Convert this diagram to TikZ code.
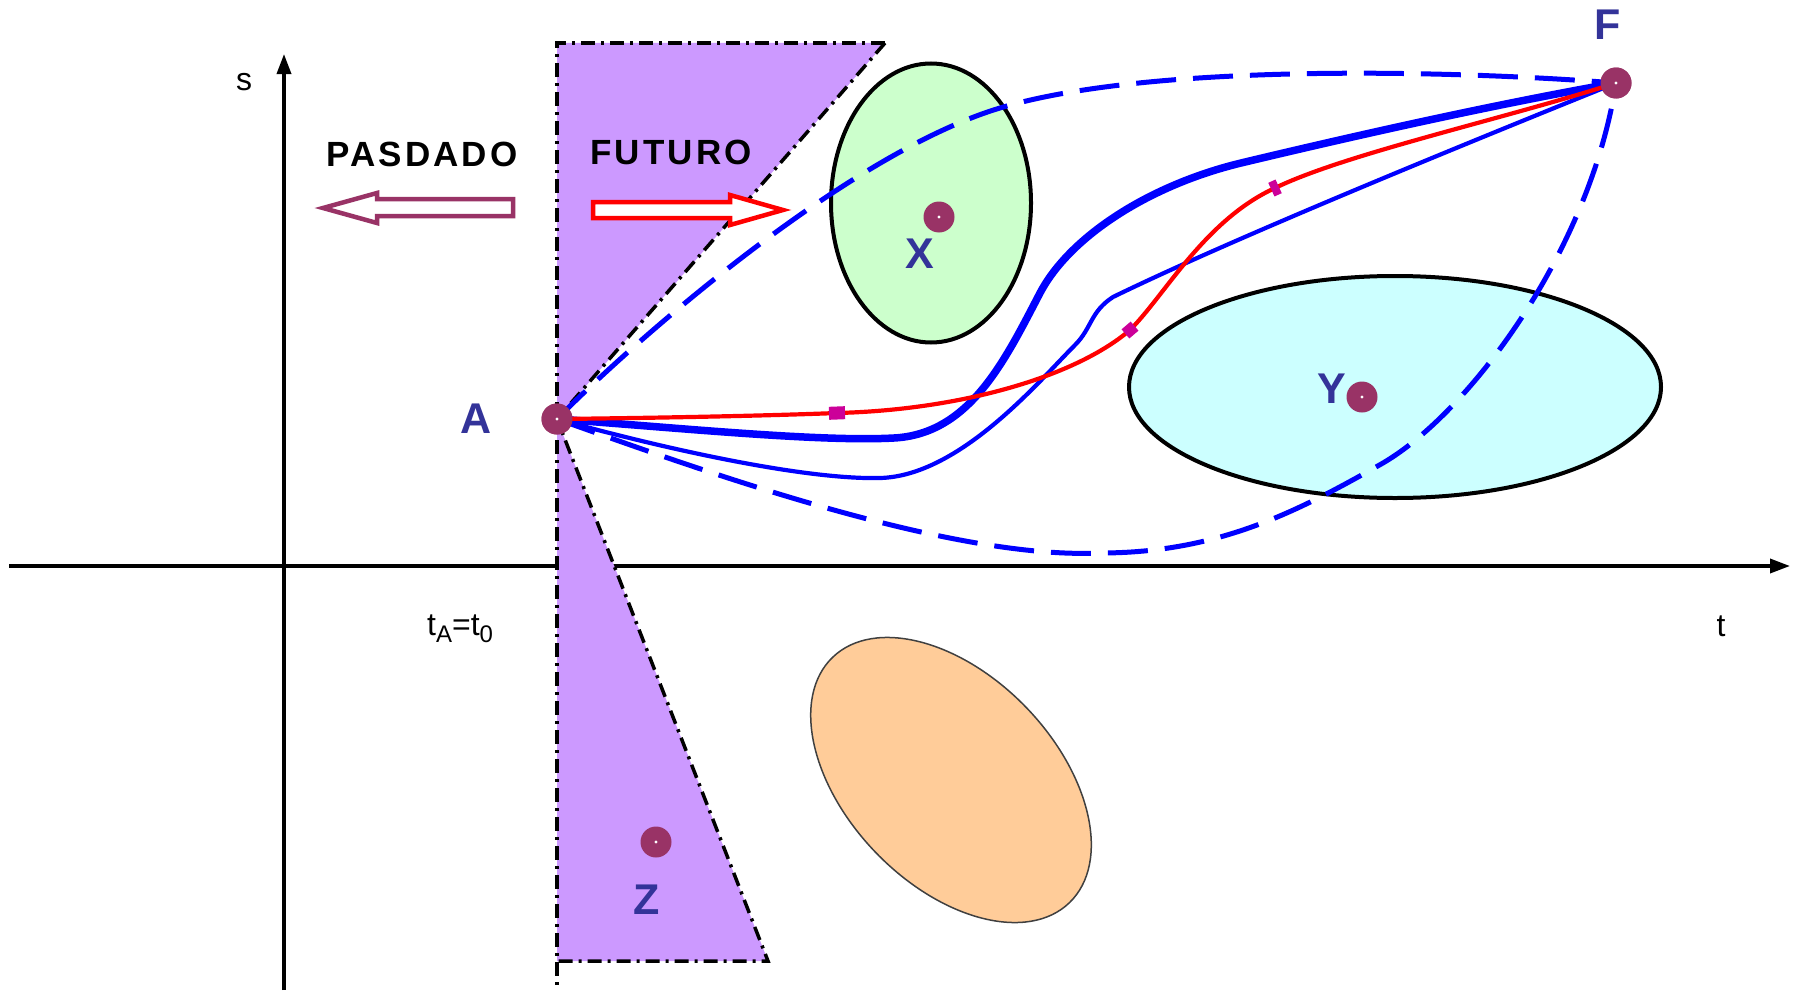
\documentclass[tikz,border=0pt]{standalone}
\usepackage{fontspec}
\setmainfont{Liberation Sans}
\usetikzlibrary{shapes.geometric,arrows.meta}
\definecolor{lilac}{HTML}{CC99FF}
\definecolor{dotc}{HTML}{993366}
\definecolor{lblc}{HTML}{333399}
\definecolor{greenf}{HTML}{CCFFCC}
\definecolor{cyanf}{HTML}{CCFFFF}
\definecolor{orangef}{HTML}{FFCC99}
\definecolor{markc}{HTML}{CC0099}
\definecolor{bluec}{HTML}{0000FF}
\begin{document}
\begin{tikzpicture}[x=1pt,y=-1pt,
  axis/.style={line width=3.5pt,-{Triangle[length=20pt,width=14pt]}},
  cone/.style={draw=black,line width=3.5pt,dash pattern=on 14pt off 6pt on 3pt off 6pt},
  region/.style={ellipse,draw=black,line width=4pt,inner sep=0pt},
  pt/.style={circle,fill=dotc,inner sep=0pt,minimum size=31pt},
  lbl/.style={text=lblc,font=\fontsize{43}{43}\selectfont\bfseries,anchor=base,inner sep=0pt},
  headtxt/.style={anchor=base,inner sep=0pt,font=\fontsize{35}{35}\selectfont\bfseries\addfontfeature{LetterSpace=9}},
  axtxt/.style={anchor=base,inner sep=0pt,font=\fontsize{32}{32}\selectfont},
  dashcurve/.style={draw=bluec,line width=5pt,dash pattern=on 40pt off 17pt},
  thickcurve/.style={draw=bluec,line width=7.5pt},
  thincurve/.style={draw=bluec,line width=4.2pt},
  redcurve/.style={draw=red,line width=4.2pt},
  tickmark/.style={fill=markc,draw=none,inner sep=0pt,sloped,pos=1},
  hollowarrow/.style={line width=4.5pt,fill=white,line join=miter}
]
\useasboundingbox (0,0) rectangle (1795,990);
\fill[white] (0,0) rectangle (1795,990);

% axes
\coordinate (tstart) at (9,566);
\coordinate (tend) at (1790,566);
\coordinate (sstart) at (284,990);
\coordinate (send) at (284,54);
\draw[axis] (tstart) -- (tend);
\draw[axis] (sstart) -- (send);

% light cones
\coordinate (Apt) at (557,419);
\coordinate (C1) at (557,43);
\coordinate (C2) at (885,43);
\coordinate (C3) at (768,961);
\coordinate (C4) at (557,961);
\coordinate (C5) at (557,990);
\fill[lilac] (C1) -- (C2) -- (Apt) -- cycle;
\fill[lilac] (Apt) -- (C3) -- (C4) -- cycle;
\draw[cone] (C2) -- (C1) -- (C5);
\draw[cone] (C2) -- (Apt) -- (C3) -- (C4);

% regions
\node[region,fill=greenf,minimum width=200pt,minimum height=279pt] (Xreg) at (931,203) {};
\node[region,fill=cyanf,minimum width=532pt,minimum height=222pt] (Yreg) at (1395,387) {};
\node[ellipse,draw=black!75,line width=1.5pt,fill=orangef,inner sep=0pt,
      minimum width=341pt,minimum height=209pt,rotate=-46] (Oreg) at (951,780) {};

% texts and hollow arrows
\node[headtxt] (past) at (422,166) {PASDADO};
\node[headtxt] (fut) at (671,164) {FUTURO};
\draw[hollowarrow,draw=dotc] (513,199) -- (377,199) -- (377,193) -- (323,208) -- (377,223) -- (377,216) -- (513,216) -- cycle;
\draw[hollowarrow,draw=red] (593,202) -- (730,202) -- (730,195) -- (783,210) -- (730,225) -- (730,218) -- (593,218) -- cycle;

\node[axtxt] (slab) at (244,90) {s};
\node[axtxt] (tlab) at (1721,636) {t};
\node[axtxt,anchor=base west] (t0lab) at (427,635) {t\raisebox{-0.22em}{\fontsize{24}{24}\selectfont A}=t\raisebox{-0.22em}{\fontsize{24}{24}\selectfont 0}};

% event nodes
\node[pt] (A) at (Apt) {};
\node[pt] (F) at (1616,83) {};
\node[pt] (X) at (939,217) {};
\node[pt] (Y) at (1362,397) {};
\node[pt] (Z) at (656,842) {};

% curves
\draw[dashcurve] (A.center) .. controls (640,335) and (850,153) .. (1000,108)
                 .. controls (1150,63) and (1450,70) .. (F.center);
\draw[dashcurve] (A.center) .. controls (700,470) and (950,560) .. (1100,553)
                 .. controls (1220,553) and (1300,510) .. (1383,463)
                 .. controls (1470,412) and (1590,250) .. (F.center);
\draw[thickcurve] (A.center) .. controls (680,428) and (820,442) .. (894,438)
                 .. controls (970,434) and (1005,360) .. (1040,293)
                 .. controls (1070,236) and (1150,185) .. (1241,163)
                 .. controls (1400,125) and (1520,100) .. (F.center);
\draw[thincurve] (A.center) .. controls (650,445) and (800,480) .. (880,478)
                 .. controls (960,476) and (1040,380) .. (1075,345)
                 .. controls (1092,328) and (1090,312) .. (1113,297)
                 .. controls (1230,240) and (1450,150) .. (F.center);
\draw[redcurve] (A.center) .. controls (650,418) and (760,416) .. (837,413)
                 node[tickmark,minimum width=16pt,minimum height=13pt] (m1) {}
                 .. controls (960,410) and (1075,377) .. (1130,330)
                 node[tickmark,minimum width=12pt,minimum height=12pt] (m2) {}
                 .. controls (1165,295) and (1205,220) .. (1275,188)
                 node[tickmark,minimum width=8pt,minimum height=15pt] (m3) {}
                 .. controls (1345,154) and (1500,120) .. (F.center);

% dots on top
\node[pt] at (A) {};
\node[pt] at (F) {};
\foreach \p in {A,F,X,Y,Z} \fill[white] (\p.center) circle[radius=1.6pt];

% labels
\node[lbl] (Alab) at (476,433) {A};
\node[lbl] (Flab) at (1608,40) {F};
\node[lbl] (Xlab) at (920,268) {X};
\node[lbl] (Ylab) at (1332,403) {Y};
\node[lbl] (Zlab) at (647,914) {Z};
\end{tikzpicture}
\end{document}
